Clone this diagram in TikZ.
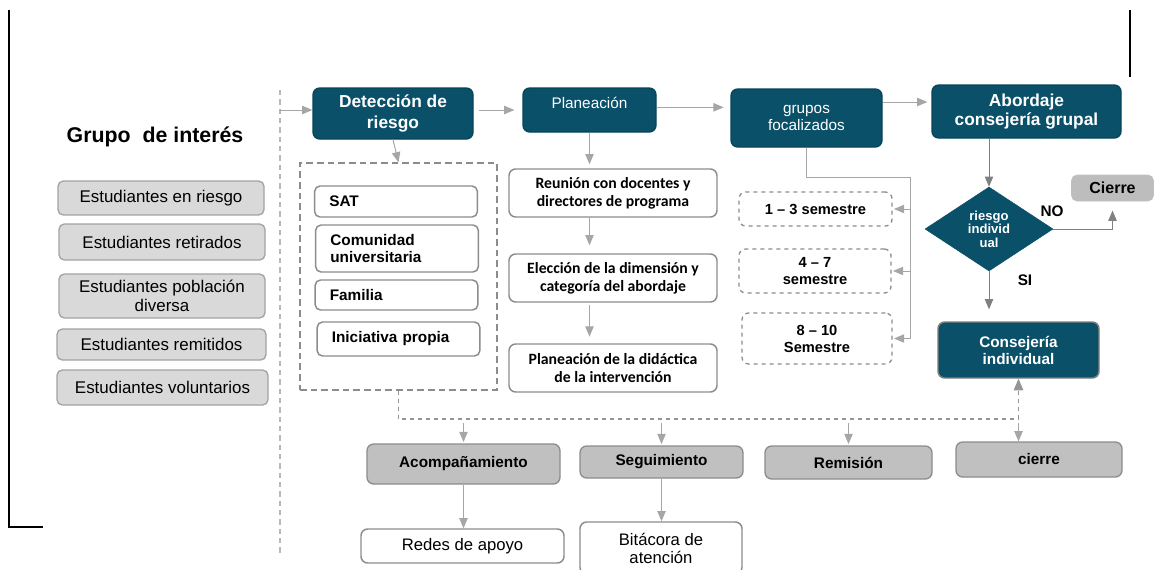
\documentclass[tikz,border=0pt]{standalone}
\usepackage{fontspec}
\setmainfont{Liberation Sans}
\newfontfamily\calibri{Carlito}
\usetikzlibrary{shapes, arrows, calc, positioning}

\definecolor{petrol}{HTML}{0A5069}
\definecolor{lightfill}{HTML}{D9D9D9}
\definecolor{midfill}{HTML}{C0C0C0}
\definecolor{edgegray}{HTML}{8C8C8C}
\definecolor{arrowgray}{HTML}{A6A6A6}

\tikzset{boxsize/.style 2 args={minimum width=#1*0.75pt, minimum height=#2*0.75pt}}

\begin{document}
\begin{tikzpicture}[x=0.75pt, y=-0.75pt, >=triangle 45]
    \tikzstyle{petrolbox} = [draw=petrol!85!black, fill=petrol, rounded corners=5pt,
	text=white, line width=1pt, align=center, inner sep=0pt]
    \tikzstyle{greybox} = [draw=edgegray!80, fill=lightfill, rounded corners=4pt,
	line width=1pt, align=center, inner sep=0pt, font=\fontsize{12.7}{14.25}\selectfont]
    \tikzstyle{listbox} = [draw=edgegray, fill=white, rounded corners=4pt, line width=1.1pt,
	align=left, text width=100pt, inner xsep=11pt, inner ysep=0pt,
	font=\bfseries\fontsize{11.5}{12.75}\selectfont]
    \tikzstyle{stepbox} = [draw=edgegray, fill=white, rounded corners=5pt, line width=1.1pt,
	align=center, inner sep=0pt, font=\calibri\bfseries\fontsize{11.8}{13.5}\selectfont]
    \tikzstyle{semebox} = [draw=edgegray, dashed, rounded corners=5pt, line width=1pt,
	align=center, inner sep=0pt, font=\bfseries\fontsize{11}{12.75}\selectfont]
    \tikzstyle{actbox} = [draw=edgegray, fill=midfill, rounded corners=5pt, line width=1pt,
	align=center, inner sep=0pt, font=\bfseries\fontsize{11.5}{13}\selectfont]
    \tikzstyle{outbox} = [draw=edgegray, fill=white, rounded corners=5pt, line width=1.1pt,
	align=center, inner sep=0pt, font=\fontsize{12.5}{13.5}\selectfont]
    \tikzstyle{lbl} = [font=\bfseries\fontsize{11.5}{13}\selectfont, inner sep=0pt]
    \tikzstyle{arr} = [->, draw=arrowgray, line width=0.75pt]
    \tikzstyle{darkarr} = [->, draw=gray, line width=0.75pt]
    \tikzstyle{dashline} = [draw=arrowgray!90!black, dashed, line width=1pt]

    \useasboundingbox (0,0) rectangle (1154,569);

    % frame pieces and separator
    \draw[black, line width=1pt] (9,10) -- (9,527) -- (43,527);
    \draw[black, line width=1pt] (1130,10) -- (1130,77);
    \draw[draw=arrowgray!80, line width=1pt, dash pattern=on 4pt off 3pt] (280,90) -- (280,555);

    % grupo de interes
    \node[font=\bfseries\fontsize{16}{18}\selectfont] (title) at (155,137) {Grupo\ \ de interés};
    \node[greybox, boxsize={206}{34}] (e1) at (161,198) {Estudiantes en riesgo};
    \node[greybox, boxsize={206}{36}] (e2) at (162,242) {Estudiantes retirados};
    \node[greybox, boxsize={206}{44}] (e3) at (162,296) {Estudiantes población\\diversa};
    \node[greybox, boxsize={209}{31}] (e4) at (161.5,344.5) {Estudiantes remitidos};
    \node[greybox, boxsize={211}{35}] (e5) at (162.5,387.5) {Estudiantes voluntarios};

    % top row
    \node[petrolbox, boxsize={160}{51}, font=\bfseries\fontsize{13}{15.75}\selectfont]
	(det) at (393,113.5) {Detección de\\riesgo};
    \node[petrolbox, boxsize={133}{44}, text depth=11pt, font=\fontsize{11.5}{13}\selectfont]
	(plan) at (589.5,110) {Planeación};
    \node[petrolbox, boxsize={151}{58}, font=\fontsize{11.5}{12.75}\selectfont]
	(grp) at (806.5,118) {grupos\\focalizados};
    \node[petrolbox, boxsize={189}{53}, font=\bfseries\fontsize{13}{14.25}\selectfont]
	(abord) at (1026.5,111.5) {Abordaje\\consejería grupal};

    % deteccion
    \node[draw=edgegray, dash pattern=on 5pt off 3pt, line width=1pt, boxsize={197}{227}]
	(dbox) at (398.5,276.5) {};
    \node[listbox, boxsize={162}{31}] (sat) at (396,201.5) {SAT};
    \node[listbox, boxsize={162}{47}] (com) at (397,248.5) {Comunidad\\universitaria};
    \node[listbox, boxsize={161}{30}] (fam) at (396.5,295) {Familia};
    \node[listbox, boxsize={161}{34}] (ini) at (398.5,339) {Iniciativa propia};

    % planeacion
    \node[stepbox, boxsize={208}{48}] (reu) at (613,193) {Reunión con docentes y\\directores de programa};
    \node[stepbox, boxsize={208}{48}] (ele) at (613,278) {Elección de la dimensión y\\categoría del abordaje};
    \node[stepbox, boxsize={208}{48}] (did) at (613,368) {Planeación de la didáctica\\de la intervención};

    % semestres
    \node[semebox, boxsize={153}{34}] (s1) at (815.5,209) {1 -- 3 semestre};
    \node[semebox, boxsize={152}{44}] (s2) at (815,271) {4 -- 7\\semestre};
    \node[semebox, boxsize={150}{51}] (s3) at (817,338.5) {8 -- 10\\Semestre};

    % consejeria
    \node[diamond, fill=petrol, draw=petrol, text=white, minimum width=96pt, minimum height=63pt,
	inner sep=0pt, align=center, font=\bfseries\fontsize{9.8}{10.2}\selectfont]
	(dia) at (989,229) {riesgo\\individ\\ual};
    \node[fill=midfill!105, draw=midfill, rounded corners=4pt, boxsize={82}{26},
	font=\bfseries\fontsize{12}{13}\selectfont] (cierre1) at (1112.5,188) {Cierre};
    \node[petrolbox, boxsize={161}{56}, draw=gray, line width=1.1pt,
	font=\bfseries\fontsize{11.5}{12.75}\selectfont] (indiv) at (1018.5,350) {Consejería\\individual};
    \node[lbl] (no) at (1052,211) {NO};
    \node[lbl] (si) at (1025,280) {SI};

    % acciones
    \node[actbox, boxsize={193}{40}] (acomp) at (463.5,464) {Acompañamiento};
    \node[actbox, boxsize={163}{32}] (segui) at (661.5,462) {Seguimiento};
    \node[actbox, boxsize={167}{33}] (remis) at (848.5,462.5) {Remisión};
    \node[actbox, boxsize={166}{35}] (cierre2) at (1039,459.5) {cierre};
    \node[outbox, boxsize={203}{34}] (redes) at (462.5,546) {Redes de apoyo};
    \node[outbox, boxsize={162}{52}] (bitac) at (661,548) {Bitácora de\\atención};

    % connectors
    \coordinate (sepin) at (280,110);
    \draw[arr] (sepin) -- (det.west |- sepin);
    \draw[arr, shorten <=4pt, shorten >=6pt] (det.east |- plan.west) -- (plan.west);
    \draw[arr, shorten >=5pt] ([yshift=2pt]plan.east) -- ([yshift=2pt]plan.east -| grp.west);
    \draw[arr, shorten >=3pt] ([yshift=12pt]grp.east) -- ([yshift=12pt]grp.east -| abord.west);
    \draw[arr] (det.south) -- (dbox.north);

    \draw[arr, shorten >=3pt] (plan.south) -- (plan.south |- reu.north);
    \draw[arr, shorten >=6pt] (reu.south -| plan.south) -- (ele.north -| plan.south);
    \draw[arr, shorten <=2pt, shorten >=5pt] (ele.south -| plan.south) -- (did.north -| plan.south);

    \coordinate (trunk) at (910,177);
    \draw[draw=arrowgray, line width=0.75pt] (grp.south) |- (trunk) -- (trunk |- s3.east);
    \foreach \s in {s1,s2,s3}
	\draw[arr, shorten >=1pt] (trunk |- \s.east) -- (\s.east);

    \draw[darkarr] (dia.north |- abord.south) -- (dia.north);
    \draw[darkarr] (dia.east) -| ([yshift=-7pt]cierre1.south);
    \draw[darkarr, shorten >=9pt] (dia.south) -- (dia.south |- indiv.north);

    \coordinate (bus) at (396,419);
    \draw[dashline, ->] (dbox.south) |- (indiv.south |- bus) -- (indiv.south);
    \foreach \b in {acomp,segui,remis}
	\draw[arr, shorten <=3pt, shorten >=1pt] (\b.north |- bus) -- (\b.north);
    \draw[arr, shorten <=3pt] (indiv.south |- bus) -- (indiv.south |- cierre2.north);

    \draw[arr] (acomp.south) -- (acomp.south |- redes.north);
    \draw[arr] (segui.south) -- (segui.south |- bitac.north);
\end{tikzpicture}
\end{document}
